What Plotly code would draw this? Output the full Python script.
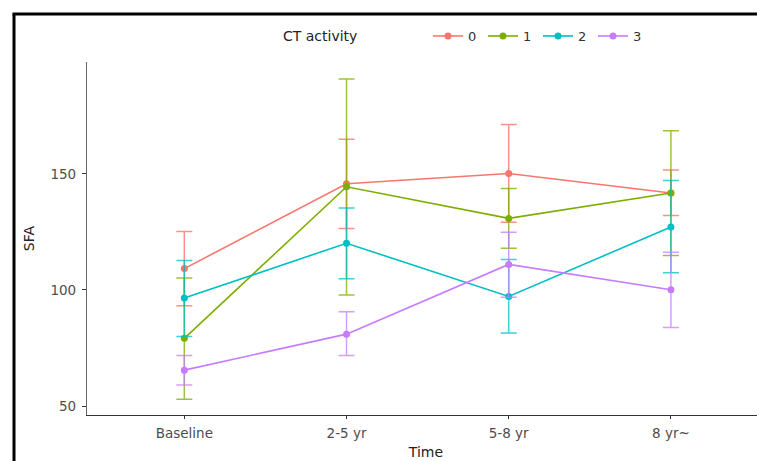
import plotly.graph_objects as go

times = ["Baseline", "2-5 yr", "5-8 yr", "8 yr~"]
groups = ["0", "1", "2", "3"]
colors = ["#F8766D", "#7CAE00", "#00BFC4", "#C77CFF"]
err_colors = ["rgba(248,118,109,0.8)", "rgba(124,174,0,0.75)", "rgba(0,191,196,0.75)", "rgba(199,124,255,0.75)"]

mean_0 = [109.2, 145.7, 150.1, 141.7]
upper_0 = [125.2, 164.9, 171.2, 151.6]
lower_0 = [93.2, 126.4, 129.1, 132.1]

mean_1 = [79.2, 144.4, 130.8, 141.7]
upper_1 = [105.2, 190.8, 143.7, 168.5]
lower_1 = [53.0, 97.8, 118.0, 114.8]

mean_2 = [96.5, 120.1, 97.2, 127.1]
upper_2 = [112.7, 135.3, 113.1, 147.1]
lower_2 = [80.0, 104.8, 81.5, 107.4]

mean_3 = [65.5, 81.0, 111.0, 100.1]
upper_3 = [71.8, 90.6, 124.8, 116.2]
lower_3 = [59.1, 71.8, 96.9, 83.8]

means = [mean_0, mean_1, mean_2, mean_3]
uppers = [upper_0, upper_1, upper_2, upper_3]
lowers = [lower_0, lower_1, lower_2, lower_3]

FONT = "DejaVu Sans"

fig = go.Figure()
for g, c, ec, m, u, lo in zip(groups, colors, err_colors, means, uppers, lowers):
    fig.add_trace(go.Scatter(
        x=list(range(len(times))), y=m, name=g, mode="lines+markers",
        line=dict(color=c, width=1.6),
        marker=dict(color=c, size=7),
        error_y=dict(type="data", symmetric=False,
                     array=[a - b for a, b in zip(u, m)],
                     arrayminus=[b - a for a, b in zip(lo, m)],
                     color=ec, thickness=1.5, width=8),
    ))

# page has an 8px body margin: figure occupies screen 8..765 x 8..461
OFF = 8
W, H = 765 - OFF, 461 - OFF
L, T = 87 - OFF, 62 - OFF
R = 0
B = H - (415 - OFF)
pw, ph = W - L - R, H - T - B

def px(x):  # screen pixel -> paper
    return (x - OFF - L) / pw

def py(y):
    return (H - B - (y - OFF)) / ph

border = dict(color="black", width=3)

fig.update_layout(
    width=W, height=H,
    margin=dict(l=L, r=R, t=T, b=B),
    paper_bgcolor="white", plot_bgcolor="white",
    font=dict(family=FONT, size=13, color="#4D4D4D"),
    showlegend=True,
    legend=dict(orientation="h", x=px(428), xanchor="left", y=py(36), yanchor="middle",
                font=dict(family=FONT, size=13, color="#333333"),
                entrywidth=10, entrywidthmode="pixels", itemwidth=30,
                bgcolor="rgba(0,0,0,0)", borderwidth=0, tracegroupgap=0),
    xaxis=dict(
        tickmode="array", tickvals=list(range(len(times))), ticktext=times,
        range=[-0.6, 3.58], showgrid=False, zeroline=False,
        showline=True, linecolor="#333333", linewidth=1.2,
        ticks="outside", ticklen=3, tickcolor="#333333",
        ticklabelstandoff=3,
        tickfont=dict(family=FONT, size=13.5, color="#4D4D4D"),
        title=dict(text="Time", font=dict(family=FONT, size=14, color="#222222"), standoff=6),
    ),
    yaxis=dict(
        range=[46.2, 198.1], tickvals=[50, 100, 150], showgrid=False, zeroline=False,
        showline=True, linecolor="#666666", linewidth=1.2,
        ticks="outside", ticklen=4, tickcolor="#333333",
        ticklabelstandoff=3,
        tickfont=dict(family=FONT, size=13.5, color="#4D4D4D"),
        title=dict(text="SFA", font=dict(family=FONT, size=14, color="#222222"), standoff=12),
    ),
    annotations=[dict(text="CT activity", xref="paper", yref="paper",
                      x=px(320), y=py(36), xanchor="center", yanchor="middle",
                      showarrow=False, font=dict(family=FONT, size=14, color="#222222"))],
    shapes=[
        dict(type="line", xref="paper", yref="paper",
             x0=px(14), x1=px(14), y0=py(500), y1=py(14), line=border),
        dict(type="line", xref="paper", yref="paper",
             x0=px(12.5), x1=px(800), y0=py(14), y1=py(14), line=border),
    ],
)

fig.write_html("out.html")
